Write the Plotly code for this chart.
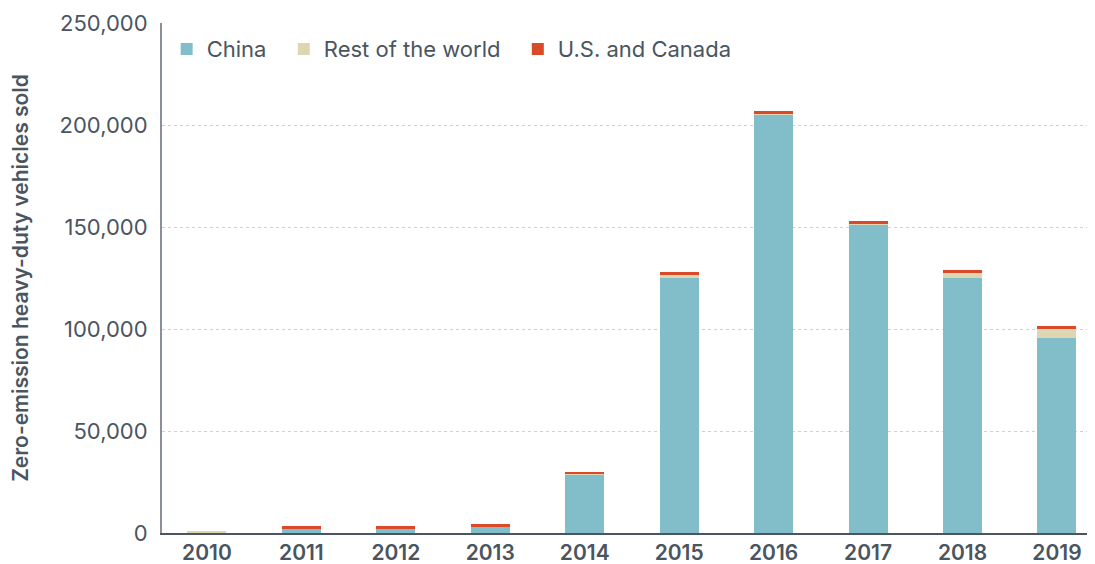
import plotly.graph_objects as go

years = ["2010", "2011", "2012", "2013", "2014", "2015", "2016", "2017", "2018", "2019"]
china = [0, 2000, 2000, 3000, 28500, 125000, 205000, 151000, 125000, 95500]
rest_world = [1000, 0, 0, 0, 300, 1500, 500, 500, 2400, 4400]
us_canada = [0, 1500, 1500, 1500, 1300, 1500, 1500, 1500, 1500, 1500]

text_color = "#4a5560"
font_family = "Inter, 'Noto Sans', sans-serif"
pad = "\u00a0" * 2

fig = go.Figure()
fig.add_bar(x=years, y=china, name="China" + pad, marker_color="#82bec9", marker_line_width=0)
fig.add_bar(x=years, y=rest_world, name="Rest of the world" + pad, marker_color="#ded6b3", marker_line_width=0)
fig.add_bar(x=years, y=us_canada, name="U.S. and Canada", marker_color="#d84a28", marker_line_width=0)

# page body has an 8px default margin; size the figure to fit the window
fig.update_layout(
    barmode="stack",
    bargap=0.587,
    width=1087, height=556,
    margin=dict(l=154, r=0, t=15, b=31),
    plot_bgcolor="white", paper_bgcolor="white",
    font=dict(family=font_family, color=text_color, size=22),
    legend=dict(orientation="h", x=0.005, y=0.99, xanchor="left", yanchor="top",
                font=dict(size=22, color=text_color), bgcolor="rgba(0,0,0,0)",
                itemwidth=30, traceorder="normal"),
    showlegend=True,
)
fig.update_xaxes(
    range=[-0.476, 9.403],
    showline=True, linecolor="#4a5560", linewidth=2,
    tickfont=dict(size=21, color=text_color, family=font_family, weight=600),
    ticks="", showgrid=False,
)
fig.update_yaxes(
    range=[0, 250000], dtick=50000, tickformat=",",
    showline=True, linecolor="#8a9096", linewidth=2,
    showgrid=True, gridcolor="#d0d0d0", griddash="dot", gridwidth=1,
    zeroline=False, ticks="outside", ticklen=8, tickcolor="white",
    tickfont=dict(size=22, color=text_color),
    title=dict(text="Zero-emission heavy-duty vehicles sold",
               font=dict(size=21, color=text_color, weight=600), standoff=26),
)

fig.write_html("out.html")
